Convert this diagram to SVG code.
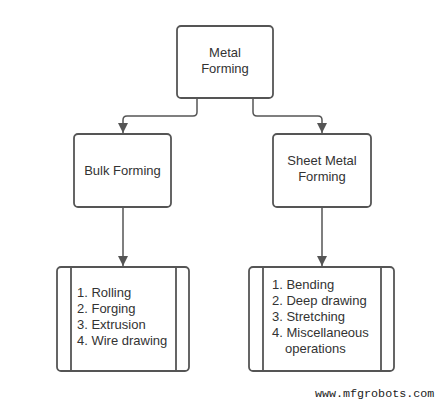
<svg xmlns="http://www.w3.org/2000/svg" width="446" height="402" viewBox="0 0 446 402">
<defs>
<marker id="arr" viewBox="0 0 10 10" refX="10" refY="5" markerWidth="10" markerHeight="10" markerUnits="userSpaceOnUse" orient="auto">
<path d="M0,0 L10,5 L0,10 z" fill="#555"/>
</marker>
<style>
.box{fill:#fff;stroke:#555;stroke-width:1.8}
.in{stroke:#555;stroke-width:1.8}
.t{font-family:"Liberation Sans",Arial,sans-serif;font-size:13px;fill:#333}
.c{fill:none;stroke:#555;stroke-width:1.5;marker-end:url(#arr)}
</style>
</defs>
<rect width="446" height="402" fill="#fff"/>
<g id="connectors">
<path class="c" d="M197,98 V112 Q197,116 193,116 H127 Q123,116 123,120 V133"/>
<path class="c" d="M253,98 V112 Q253,116 257,116 H318 Q322,116 322,120 V133"/>
<path class="c" d="M123,207 V266"/>
<path class="c" d="M322,207 V266"/>
</g>
<g id="metal-forming">
<rect class="box" x="177" y="26" width="96" height="72" rx="4"/>
<text class="t" x="225" y="57" text-anchor="middle">Metal</text>
<text class="t" x="225" y="73" text-anchor="middle">Forming</text>
</g>
<g id="bulk-forming">
<rect class="box" x="74" y="134" width="97" height="73" rx="4"/>
<text class="t" x="122.5" y="175" text-anchor="middle">Bulk Forming</text>
</g>
<g id="sheet-metal-forming">
<rect class="box" x="273" y="134" width="98" height="73" rx="4"/>
<text class="t" x="322" y="165" text-anchor="middle">Sheet Metal</text>
<text class="t" x="322" y="181" text-anchor="middle">Forming</text>
</g>
<g id="bulk-list">
<rect class="box" x="57" y="267" width="132" height="104" rx="4"/>
<line class="in" x1="71" y1="267" x2="71" y2="371"/>
<line class="in" x1="176" y1="267" x2="176" y2="371"/>
<text class="t" x="77" y="297">1. Rolling</text>
<text class="t" x="77" y="313">2. Forging</text>
<text class="t" x="77" y="329">3. Extrusion</text>
<text class="t" x="77" y="345">4. Wire drawing</text>
</g>
<g id="sheet-list">
<rect class="box" x="249" y="267" width="145" height="104" rx="4"/>
<line class="in" x1="263" y1="267" x2="263" y2="371"/>
<line class="in" x1="381" y1="267" x2="381" y2="371"/>
<text class="t" x="272" y="289">1. Bending</text>
<text class="t" x="272" y="305">2. Deep drawing</text>
<text class="t" x="272" y="321">3. Stretching</text>
<text class="t" x="272" y="337">4. Miscellaneous</text>
<text class="t" x="285" y="353">operations</text>
</g>
<text x="315" y="397" font-family="Liberation Mono,'Courier New',monospace" font-size="11.7" fill="#222">www.mfgrobots.com</text>
</svg>
